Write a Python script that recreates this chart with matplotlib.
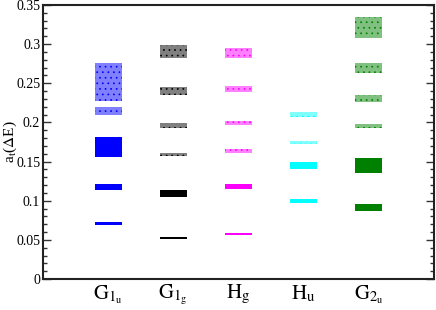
import matplotlib
matplotlib.use('Agg')
import matplotlib.pyplot as plt
from matplotlib.ticker import MultipleLocator

plt.rcParams['font.family'] = ['Liberation Serif', 'DejaVu Serif']
plt.rcParams['mathtext.fontset'] = 'stix'
plt.rcParams['hatch.linewidth'] = 0.5

# irreps on the x axis
irreps = [r'$\mathrm{G}_{\mathrm{1}_{\mathrm{u}}}$', r'$\mathrm{G}_{\mathrm{1}_{\mathrm{g}}}$',
          r'$\mathrm{H}_{\mathrm{g}}$', r'$\mathrm{H}_{\mathrm{u}}$',
          r'$\mathrm{G}_{\mathrm{2}_{\mathrm{u}}}$']
colors = ['#0000ff', '#000000', '#ff00ff', '#00ffff', '#008000']
light = ['#8080ff', '#808080', '#ff80ff', '#80ffff', '#80c080']

# energy bands (low, high) per irrep, ordered top to bottom
G1u_lo = [0.228, 0.209, 0.1555, 0.1137, 0.0694]
G1u_hi = [0.276, 0.220, 0.181, 0.121, 0.0732]
G1u_dotted = [True, True, False, False, False]

G1g_lo = [0.2827, 0.2350, 0.1925, 0.157, 0.1044, 0.0507]
G1g_hi = [0.2989, 0.2449, 0.1989, 0.161, 0.1133, 0.0540]
G1g_dotted = [True, True, True, True, False, False]

Hg_lo = [0.2819, 0.2389, 0.1963, 0.161, 0.115, 0.0558]
Hg_hi = [0.2947, 0.2465, 0.2014, 0.1657, 0.1218, 0.0592]
Hg_dotted = [True, True, True, True, False, False]

Hu_lo = [0.2069, 0.172, 0.141, 0.0971]
Hu_hi = [0.2133, 0.1767, 0.149, 0.1026]
Hu_dotted = [True, True, False, False]

G2u_lo = [0.3083, 0.2631, 0.2265, 0.1929, 0.135, 0.0873]
G2u_hi = [0.335, 0.2763, 0.235, 0.1984, 0.1542, 0.0962]
G2u_dotted = [True, True, True, True, False, False]

bands = [(G1u_lo, G1u_hi, G1u_dotted), (G1g_lo, G1g_hi, G1g_dotted),
         (Hg_lo, Hg_hi, Hg_dotted), (Hu_lo, Hu_hi, Hu_dotted),
         (G2u_lo, G2u_hi, G2u_dotted)]

fig = plt.figure(figsize=(4.36, 3.10), dpi=100)
ax = fig.add_axes([0.0986, 0.1, 0.8968, 0.8839])

for i, (lo, hi, dotted) in enumerate(bands):
    x = i + 1
    for l, h, d in zip(lo, hi, dotted):
        if d:
            ax.bar(x, h - l, bottom=l, width=0.41, color=light[i],
                   edgecolor=colors[i], linewidth=0, hatch='...')
        else:
            ax.bar(x, h - l, bottom=l, width=0.41, color=colors[i],
                   linewidth=0)

ax.set_xlim(0, 6)
ax.set_ylim(0, 0.35)
ax.set_xticks(range(1, 6))
ax.set_xticklabels(irreps, fontsize=15)
ax.tick_params(axis='x', length=0, pad=3)
ax.yaxis.set_major_locator(MultipleLocator(0.05))
ax.yaxis.set_minor_locator(MultipleLocator(0.01))
ax.set_yticks([0, 0.05, 0.1, 0.15, 0.2, 0.25, 0.3, 0.35])
ax.set_yticklabels(['0', '0.05', '0.1', '0.15', '0.2', '0.25', '0.3', '0.35'])
ax.tick_params(axis='y', which='both', direction='in', left=True, right=True,
               labelsize=10, pad=2, color='#333333')
ax.tick_params(axis='y', which='major', length=6, width=1)
ax.tick_params(axis='y', which='minor', length=3, width=1)
for s in ax.spines.values():
    s.set_linewidth(1.5)
    s.set_color('#222222')
ax.set_ylabel(r'a$_\mathrm{t}$($\Delta$E)', fontsize=11)
ax.yaxis.set_label_coords(-0.062, 0.5)

fig.savefig('out.png', dpi=100)
